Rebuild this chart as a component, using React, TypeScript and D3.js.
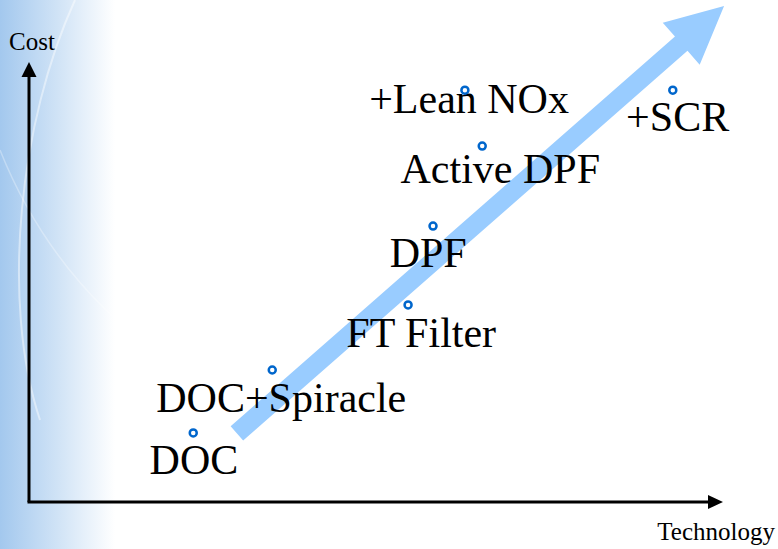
import React, { useRef, useEffect } from 'react'
import * as d3 from 'd3'

// technologies, left to right up the cost axis
const labels = ['DOC', 'DOC+Spiracle', 'FT Filter', 'DPF', 'Active DPF', '+Lean NOx', '+SCR']
// marker position (technology, cost) on a 0..10 scale
const markerTech = [2.37, 3.51, 5.47, 5.83, 6.54, 6.29, 9.29]
const markerCost = [1.57, 3.0, 4.48, 6.27, 8.09, 9.36, 9.36]
// where each label sits (centre, baseline) on the same scale
const labelTech = [2.38, 3.64, 5.66, 5.76, 6.8, 6.35, 9.36]
const labelCost = [0.64, 2.05, 3.52, 5.34, 7.25, 8.84, 8.43]
// trend arrow from / to
const trendFrom = [3.0, 1.56]
const trendTo = [10.03, 11.27]

const axisTitles = { x: 'Technology', y: 'Cost' }

const FONT = 'Liberation Serif'

const App = () => {
    const visEl = useRef(null)
    const width = 778
    const height = 549

    useEffect(() => {
        const root = d3.select(visEl.current)
        root.selectAll('*').remove()
        const svg = root.append('svg')
            .attr('width', width)
            .attr('height', height)
            .style('position', 'absolute')
            .style('left', 0)
            .style('top', 0)

        const xScale = d3.scaleLinear().domain([0, 10]).range([29, 722])
        const yScale = d3.scaleLinear().domain([0, 10]).range([502, 62])

        // slide background
        const defs = svg.append('defs')
        const grad = defs.append('linearGradient').attr('id', 'bg').attr('x1', 0).attr('x2', 1).attr('y1', 0).attr('y2', 0)
        grad.append('stop').attr('offset', 0).attr('stop-color', '#a3c8ee')
        grad.append('stop').attr('offset', 0.5).attr('stop-color', '#d0e3f6')
        grad.append('stop').attr('offset', 1).attr('stop-color', '#ffffff')
        svg.append('rect').attr('width', width).attr('height', height).attr('fill', '#fff')
        svg.append('rect').attr('width', 115).attr('height', height).attr('fill', 'url(#bg)')
        svg.append('path')
            .attr('d', 'M75,0 C20,120 0,300 40,420')
            .attr('fill', 'none').attr('stroke', '#fff').attr('stroke-opacity', 0.45).attr('stroke-width', 2)
        svg.append('path')
            .attr('d', 'M0,150 C40,250 110,330 190,370')
            .attr('fill', 'none').attr('stroke', '#fff').attr('stroke-opacity', 0.3).attr('stroke-width', 1.5)

        // trend arrow
        const [ax, ay] = [xScale(trendFrom[0]), yScale(trendFrom[1])]
        const [bx, by] = [xScale(trendTo[0]), yScale(trendTo[1])]
        const len = Math.hypot(bx - ax, by - ay)
        const ux = (bx - ax) / len, uy = (by - ay) / len
        const px = -uy, py = ux
        const shaft = 9.5, head = 28, headLen = 57
        const nx = bx - ux * headLen, ny = by - uy * headLen
        const pts = [
            [ax + px * shaft, ay + py * shaft],
            [nx + px * shaft, ny + py * shaft],
            [nx + px * head, ny + py * head],
            [bx, by],
            [nx - px * head, ny - py * head],
            [nx - px * shaft, ny - py * shaft],
            [ax - px * shaft, ay - py * shaft]
        ]
        svg.append('path')
            .attr('d', d3.line()(pts) + 'Z')
            .attr('fill', '#99ccff')

        // axes
        const g = svg.append('g')
        g.append('line')
            .attr('x1', xScale(0)).attr('y1', yScale(0))
            .attr('x2', xScale(0)).attr('y2', yScale(10) + 14)
            .attr('stroke', '#000').attr('stroke-width', 3)
        g.append('path')
            .attr('d', `M${xScale(0)},${yScale(10)} L${xScale(0) - 7.5},${yScale(10) + 15} L${xScale(0) + 7.5},${yScale(10) + 15} Z`)
            .attr('fill', '#000')
        g.append('line')
            .attr('x1', xScale(0) - 1.5).attr('y1', yScale(0))
            .attr('x2', xScale(10) - 13).attr('y2', yScale(0))
            .attr('stroke', '#000').attr('stroke-width', 3)
        g.append('path')
            .attr('d', `M${xScale(10) + 1},${yScale(0)} L${xScale(10) - 14},${yScale(0) - 7} L${xScale(10) - 14},${yScale(0) + 7} Z`)
            .attr('fill', '#000')

        g.append('text')
            .attr('x', 9).attr('y', 50)
            .attr('font-family', FONT)
            .attr('font-size', 25)
            .text(axisTitles.y)
        g.append('text')
            .attr('x', 775).attr('y', 540)
            .attr('text-anchor', 'end')
            .attr('font-family', FONT)
            .attr('font-size', 25)
            .text(axisTitles.x)

        const data = labels.map((name, i) => ({
            name,
            mx: markerTech[i], my: markerCost[i],
            lx: labelTech[i], ly: labelCost[i]
        }))

        svg.selectAll('.lbl').data(data).enter().append('text')
            .attr('class', 'lbl')
            .attr('x', d => xScale(d.lx))
            .attr('y', d => yScale(d.ly))
            .attr('text-anchor', 'middle')
            .attr('font-family', FONT)
            .attr('font-size', 42)
            .attr('fill', '#000')
            .text(d => d.name)

        svg.selectAll('.dot').data(data).enter().append('circle')
            .attr('class', 'dot')
            .attr('cx', d => xScale(d.mx))
            .attr('cy', d => yScale(d.my))
            .attr('r', 3.5)
            .attr('fill', '#fff')
            .attr('stroke', '#0066cc')
            .attr('stroke-width', 2.5)
    }, [])

    return (
        <div>
            <div ref={visEl}></div>
        </div>
    )
}

export default App
